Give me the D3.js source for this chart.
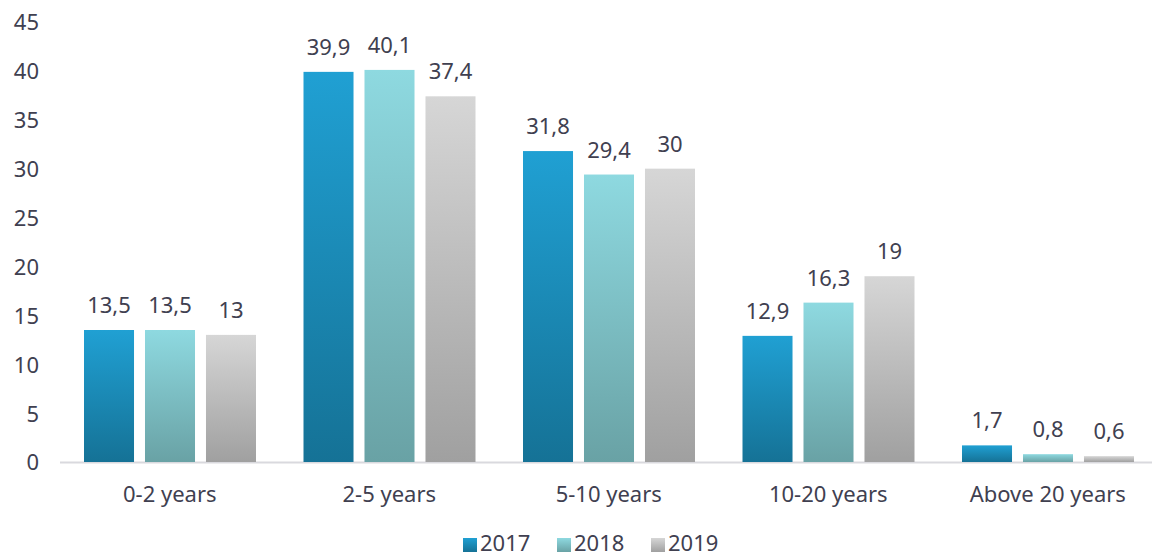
<!DOCTYPE html>
<html><head><meta charset="utf-8">
<script src="https://cdn.jsdelivr.net/npm/d3@7"></script>
<style>body{margin:0;background:#fff}svg{display:block}</style>
</head><body>
<script>
const categories = ["0-2 years","2-5 years","5-10 years","10-20 years","Above 20 years"];
const seriesNames = ["2017","2018","2019"];
const v2017 = [13.5, 39.9, 31.8, 12.9, 1.7];
const v2018 = [13.5, 40.1, 29.4, 16.3, 0.8];
const v2019 = [13, 37.4, 30, 19, 0.6];
const yTicks = [0,5,10,15,20,25,30,35,40,45];
const values = [v2017, v2018, v2019];
const grads = [["#20a0d3","#157296"],["#8ed9e0","#69a2a5"],["#d6d6d6","#a0a0a0"]];

const W=1153,H=558;
const svg=d3.select("body").append("svg").attr("width",W).attr("height",H);
const font="'Noto Sans', sans-serif";
const FS=22, TC="#404050";
const defs=svg.append("defs");
grads.forEach((g,i)=>{
  const lg=defs.append("linearGradient").attr("id","g"+i).attr("x1",0).attr("y1",0).attr("x2",0).attr("y2",1);
  lg.append("stop").attr("offset","0%").attr("stop-color",g[0]);
  lg.append("stop").attr("offset","100%").attr("stop-color",g[1]);
});
const y=d3.scaleLinear().domain([0,45]).range([462,22]);
const x0=d3.scaleBand().domain(categories).range([60,1157.5]).paddingInner(0).paddingOuter(0);
const x1=d3.scaleBand().domain(seriesNames).range([24,196]).paddingInner(0.18).paddingOuter(0);

// y axis labels
const ya=svg.append("g").attr("transform","translate(39,0)").call(d3.axisLeft(y).tickValues(yTicks).tickSize(0).tickPadding(0));
ya.select(".domain").remove();
ya.selectAll("text").attr("font-family",font).attr("font-size",FS).attr("fill",TC).attr("dy","0.36em");

// baseline
svg.append("line").attr("x1",60).attr("x2",1152).attr("y1",y(0)+0.5).attr("y2",y(0)+0.5).attr("stroke","#d9d9de").attr("stroke-width",2);

const groups=svg.selectAll("g.grp").data(categories).enter().append("g").attr("class","grp")
  .attr("transform",d=>`translate(${x0(d)},0)`);
seriesNames.forEach((s,si)=>{
  groups.append("rect")
    .attr("x",x1(s)).attr("width",x1.bandwidth())
    .attr("y",(d,i)=>y(values[si][i])).attr("height",(d,i)=>y(0)-y(values[si][i]))
    .attr("fill",`url(#g${si})`);
  groups.append("text")
    .attr("x",x1(s)+x1.bandwidth()/2).attr("y",(d,i)=>y(values[si][i])-17)
    .attr("text-anchor","middle").attr("font-family",font).attr("font-size",FS).attr("fill",TC)
    .text((d,i)=>String(values[si][i]).replace(".",","));
});

// x axis labels
const xa=svg.append("g").attr("transform",`translate(0,${y(0)})`).call(d3.axisBottom(x0).tickSize(0).tickPadding(24));
xa.select(".domain").remove();
xa.selectAll("text").attr("font-family",font).attr("font-size",FS).attr("fill",TC);

// legend
const lg=svg.append("g");
const legX=[463,557,651];
seriesNames.forEach((s,i)=>{
  lg.append("rect").attr("x",legX[i]).attr("y",538).attr("width",14).attr("height",14).attr("fill",`url(#g${i})`);
  lg.append("text").attr("x",legX[i]+17).attr("y",551).attr("font-family",font).attr("font-size",22).attr("fill",TC).text(s);
});
</script>
</body></html>
